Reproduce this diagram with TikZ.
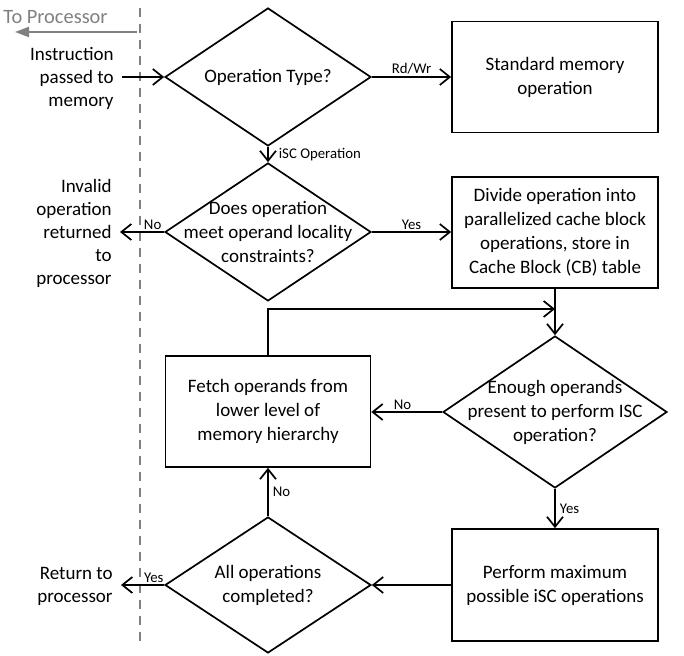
\documentclass[tikz,border=0pt]{standalone}
\usepackage{fontspec}
\setmainfont{Carlito}
\usetikzlibrary{shapes.geometric,arrows.meta}
\definecolor{lanegray}{gray}{0.5}

\begin{document}
\begin{tikzpicture}[x=0.5pt,y=-0.5pt]
    \tikzstyle{decision}=[diamond,draw=black,line width=0.85pt,inner sep=0pt,minimum width=103pt,minimum height=69pt]
    \tikzstyle{dtext}=[align=center,inner sep=0pt,font=\fontsize{9.5}{12}\selectfont]
    \tikzstyle{block}=[rectangle,draw=black,line width=0.85pt,align=center,minimum width=103pt,minimum height=55.5pt,font=\fontsize{9.5}{12}\selectfont]
    \tikzstyle{sidetext}=[align=right,anchor=east,inner sep=4pt,font=\fontsize{9.5}{11.5}\selectfont]
    \tikzstyle{tag}=[font=\fontsize{7.4}{8}\selectfont,inner sep=1pt]
    \tikzstyle{edge}=[draw,line width=0.85pt,-{Straight Barb[length=5pt,width=8pt]}]
    \useasboundingbox (0,0) rectangle (684,656);

    % processor lane
    \coordinate (laneTop) at (140,8);
    \coordinate (laneBot) at (140,642);
    \draw[lanegray,line width=1pt,dash pattern=on 4.5pt off 3.5pt] (laneTop) -- (laneBot);
    \node[anchor=west,inner sep=0pt,text=lanegray,font=\fontsize{10.2}{12}\selectfont] (tolabel) at (3,17) {To Processor};
    \coordinate (laneA) at (137,32);
    \coordinate (laneB) at (15,32);
    \draw[lanegray,line width=1pt,-{Triangle[length=7pt,width=5pt]}] (laneA) -- (laneB);

    % flow
    \node[decision,label={[dtext]center:Operation Type?}] (optype) at (268,77) {};
    \node[block] (stdmem) at (555,77) {Standard memory\\operation};
    \node[decision,label={[dtext]center:{Does operation\\meet operand locality\\constraints?}}] (locality) at (268,232) {};
    \node[block] (divide) at (555,232.5) {Divide operation into\\parallelized cache block\\operations, store in\\Cache Block (CB) table};
    \node[decision,minimum width=112pt,minimum height=76pt,label={[dtext]center:{Enough operands\\present to perform ISC\\operation?}}] (enough) at (555,412) {};
    \node[block,minimum width=102.5pt] (fetch) at (268,411.5) {Fetch operands from\\lower level of\\memory hierarchy};
    \node[block,minimum height=56pt] (perform) at (555,585) {Perform maximum\\possible iSC operations};
    \node[decision,minimum height=68pt,label={[dtext]center:{All operations\\completed?}}] (alldone) at (268,585) {};
    \coordinate (join) at (555,309);

    \node[sidetext] (instr) at (122,78) {Instruction\\passed to\\memory};
    \node[sidetext] (invalid) at (120,233) {Invalid\\operation\\returned\\to\\processor};
    \node[sidetext] (retproc) at (121,586) {Return to\\processor};

    \path[edge] (instr.east |- optype.west) -- (optype.west);
    \path[edge] (optype.east) -- node[tag,above] {Rd/Wr} (stdmem.west);
    \path[edge] (optype.south) -- node[tag,right,xshift=4pt] {iSC Operation} (locality.north);
    \path[edge] (locality.west) -- node[tag,above,pos=0.26] {No} (invalid.east |- locality.west);
    \path[edge] (locality.east) -- node[tag,above] {Yes} (divide.west |- locality.east);
    \path[edge] (divide.south) -- (enough.north);
    \path[edge] (fetch.north) |- (join);
    \path[edge] (enough.west) -- node[tag,above,pos=0.56] {No} (fetch.east |- enough.west);
    \path[edge] (enough.south) -- node[tag,right,xshift=1pt] {Yes} (perform.north);
    \path[edge] (perform.west) -- (alldone.east);
    \path[edge] (alldone.north) -- node[tag,right,xshift=1pt] {No} (fetch.south);
    \path[edge] (alldone.west) -- node[tag,above,pos=0.24] {Yes} (retproc.east |- alldone.west);
\end{tikzpicture}
\end{document}
